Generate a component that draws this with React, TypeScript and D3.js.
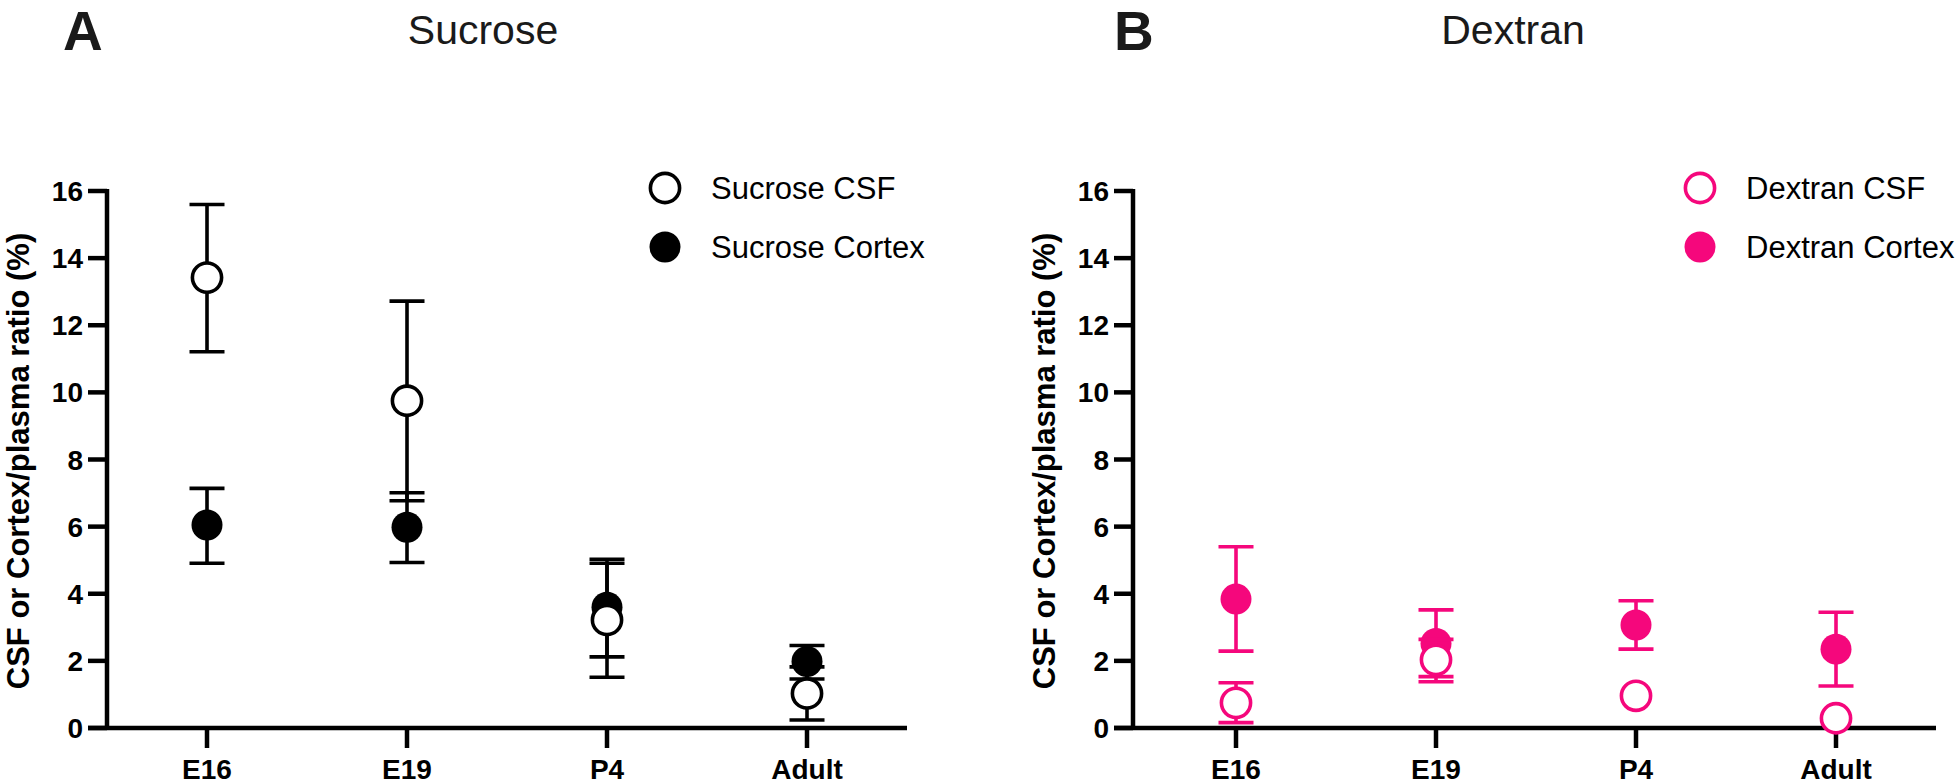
import React from "react";
import * as d3 from "d3";

const categories = ["E16", "E19", "P4", "Adult"];
const yTicks = [0, 2, 4, 6, 8, 10, 12, 14, 16];

const sucroseCsfMean = [13.42, 9.75, 3.22, 1.03];
const sucroseCsfUpper = [15.6, 12.72, 4.91, 1.82];
const sucroseCsfLower = [11.21, 6.77, 1.51, 0.24];
const sucroseCortexMean = [6.05, 5.98, 3.6, 1.98];
const sucroseCortexUpper = [7.14, 7.01, 5.03, 2.46];
const sucroseCortexLower = [4.91, 4.93, 2.12, 1.46];

const dextranCsfMean = [0.75, 2.03, 0.96, 0.29];
const dextranCsfUpper = [1.35, 2.64, 0.96, 0.29];
const dextranCsfLower = [0.16, 1.38, 0.96, 0.29];
const dextranCortexMean = [3.84, 2.52, 3.07, 2.35];
const dextranCortexUpper = [5.4, 3.52, 3.79, 3.45];
const dextranCortexLower = [2.29, 1.53, 2.35, 1.25];

const FONT = "'Liberation Sans', Arial, Helvetica, sans-serif";
const BLACK = "#000000";
const PINK = "#f5077c";

const yScale = d3.scaleLinear().domain([0, 16]).range([728, 191]);

type Series = { label: string; mean: number[]; upper: number[]; lower: number[]; open: boolean };

function Panel(props: {
  axisX: number;
  catStart: number;
  letter: string;
  letterX: number;
  title: string;
  titleX: number;
  legendX: number;
  color: string;
  series: Series[];
}) {
  const { axisX, catStart, letter, letterX, title, titleX, legendX, color, series } = props;
  const x = d3.scalePoint<string>().domain(categories).range([catStart, catStart + 800]).padding(0.5);
  const tickLen = 19;
  const axisEnd = catStart + 800;
  const capHalf = 17.5;
  const rFill = 15.5;
  const rOpen = 14.6;
  const sw = 3.6;
  // draw order: cortex (filled) first, then csf (open)
  const order = [...series].sort((a, b) => (a.open === b.open ? 0 : a.open ? 1 : -1));
  return (
    <g>
      <text x={letterX} y={50} fontFamily={FONT} fontWeight="bold" fontSize={55} fill="#1a1a1a">
        {letter}
      </text>
      <text x={titleX} y={44} fontFamily={FONT} fontSize={41} textAnchor="middle" fill="#1a1a1a">
        {title}
      </text>
      {/* y axis label */}
      <text
        transform={`translate(${axisX - 78},${461}) rotate(-90)`}
        fontFamily={FONT}
        fontWeight="bold"
        fontSize={31}
        textAnchor="middle"
        fill={BLACK}
      >
        CSF or Cortex/plasma ratio (%)
      </text>
      {/* y axis */}
      <line x1={axisX} x2={axisX} y1={yScale(16) - 2} y2={yScale(0) + 2} stroke={BLACK} strokeWidth={4.5} />
      {yTicks.map((t) => (
        <g key={t}>
          <line x1={axisX - tickLen} x2={axisX} y1={yScale(t)} y2={yScale(t)} stroke={BLACK} strokeWidth={4.5} />
          <text
            x={axisX - tickLen - 5}
            y={yScale(t)}
            dy="0.36em"
            textAnchor="end"
            fontFamily={FONT}
            fontWeight="bold"
            fontSize={28}
            fill={BLACK}
          >
            {t}
          </text>
        </g>
      ))}
      {/* x axis */}
      <line x1={axisX - tickLen} x2={axisEnd} y1={yScale(0)} y2={yScale(0)} stroke={BLACK} strokeWidth={4.5} />
      {categories.map((c) => (
        <g key={c}>
          <line x1={x(c)!} x2={x(c)!} y1={yScale(0)} y2={yScale(0) + 20} stroke={BLACK} strokeWidth={4.5} />
          <text
            x={x(c)!}
            y={779}
            textAnchor="middle"
            fontFamily={FONT}
            fontWeight="bold"
            fontSize={28}
            fill={BLACK}
          >
            {c}
          </text>
        </g>
      ))}
      {/* data */}
      {order.map((s) => (
        <g key={s.label}>
          {categories.map((c, i) => {
            const cx = x(c)!;
            const yu = yScale(s.upper[i]);
            const yl = yScale(s.lower[i]);
            const showBars = s.upper[i] !== s.lower[i];
            return (
              <g key={c}>
                {showBars && (
                  <g stroke={color} strokeWidth={sw}>
                    <line x1={cx} x2={cx} y1={yu} y2={yl} />
                    <line x1={cx - capHalf} x2={cx + capHalf} y1={yu} y2={yu} />
                    <line x1={cx - capHalf} x2={cx + capHalf} y1={yl} y2={yl} />
                  </g>
                )}
              </g>
            );
          })}
          {categories.map((c, i) => {
            const cx = x(c)!;
            const cy = yScale(s.mean[i]);
            return s.open ? (
              <circle key={c} cx={cx} cy={cy} r={rOpen} fill="#ffffff" stroke={color} strokeWidth={sw} />
            ) : (
              <circle key={c} cx={cx} cy={cy} r={rFill} fill={color} />
            );
          })}
        </g>
      ))}
      {/* legend */}
      {series.map((s, i) => {
        const cy = 188 + i * 59;
        return (
          <g key={s.label}>
            {s.open ? (
              <circle cx={legendX} cy={cy} r={rOpen} fill="#ffffff" stroke={color} strokeWidth={sw} />
            ) : (
              <circle cx={legendX} cy={cy} r={rFill} fill={color} />
            )}
            <text x={legendX + 46} y={cy + 11} fontFamily={FONT} fontSize={31} fill={BLACK}>
              {s.label}
            </text>
          </g>
        );
      })}
    </g>
  );
}

export default function App() {
  const sucrose: Series[] = [
    { label: "Sucrose CSF", mean: sucroseCsfMean, upper: sucroseCsfUpper, lower: sucroseCsfLower, open: true },
    { label: "Sucrose Cortex", mean: sucroseCortexMean, upper: sucroseCortexUpper, lower: sucroseCortexLower, open: false },
  ];
  const dextran: Series[] = [
    { label: "Dextran CSF", mean: dextranCsfMean, upper: dextranCsfUpper, lower: dextranCsfLower, open: true },
    { label: "Dextran Cortex", mean: dextranCortexMean, upper: dextranCortexUpper, lower: dextranCortexLower, open: false },
  ];
  return (
    <svg
      width={1960}
      height={784}
      viewBox="0 0 1960 784"
      style={{ position: "absolute", left: 0, top: 0, background: "#ffffff" }}
    >
      <rect x={0} y={0} width={1960} height={784} fill="#ffffff" />
      <Panel
        axisX={107}
        catStart={107}
        letter="A"
        letterX={63}
        title="Sucrose"
        titleX={483}
        legendX={665}
        color={BLACK}
        series={sucrose}
      />
      <Panel
        axisX={1133}
        catStart={1136}
        letter="B"
        letterX={1114}
        title="Dextran"
        titleX={1513}
        legendX={1700}
        color={PINK}
        series={dextran}
      />
    </svg>
  );
}
